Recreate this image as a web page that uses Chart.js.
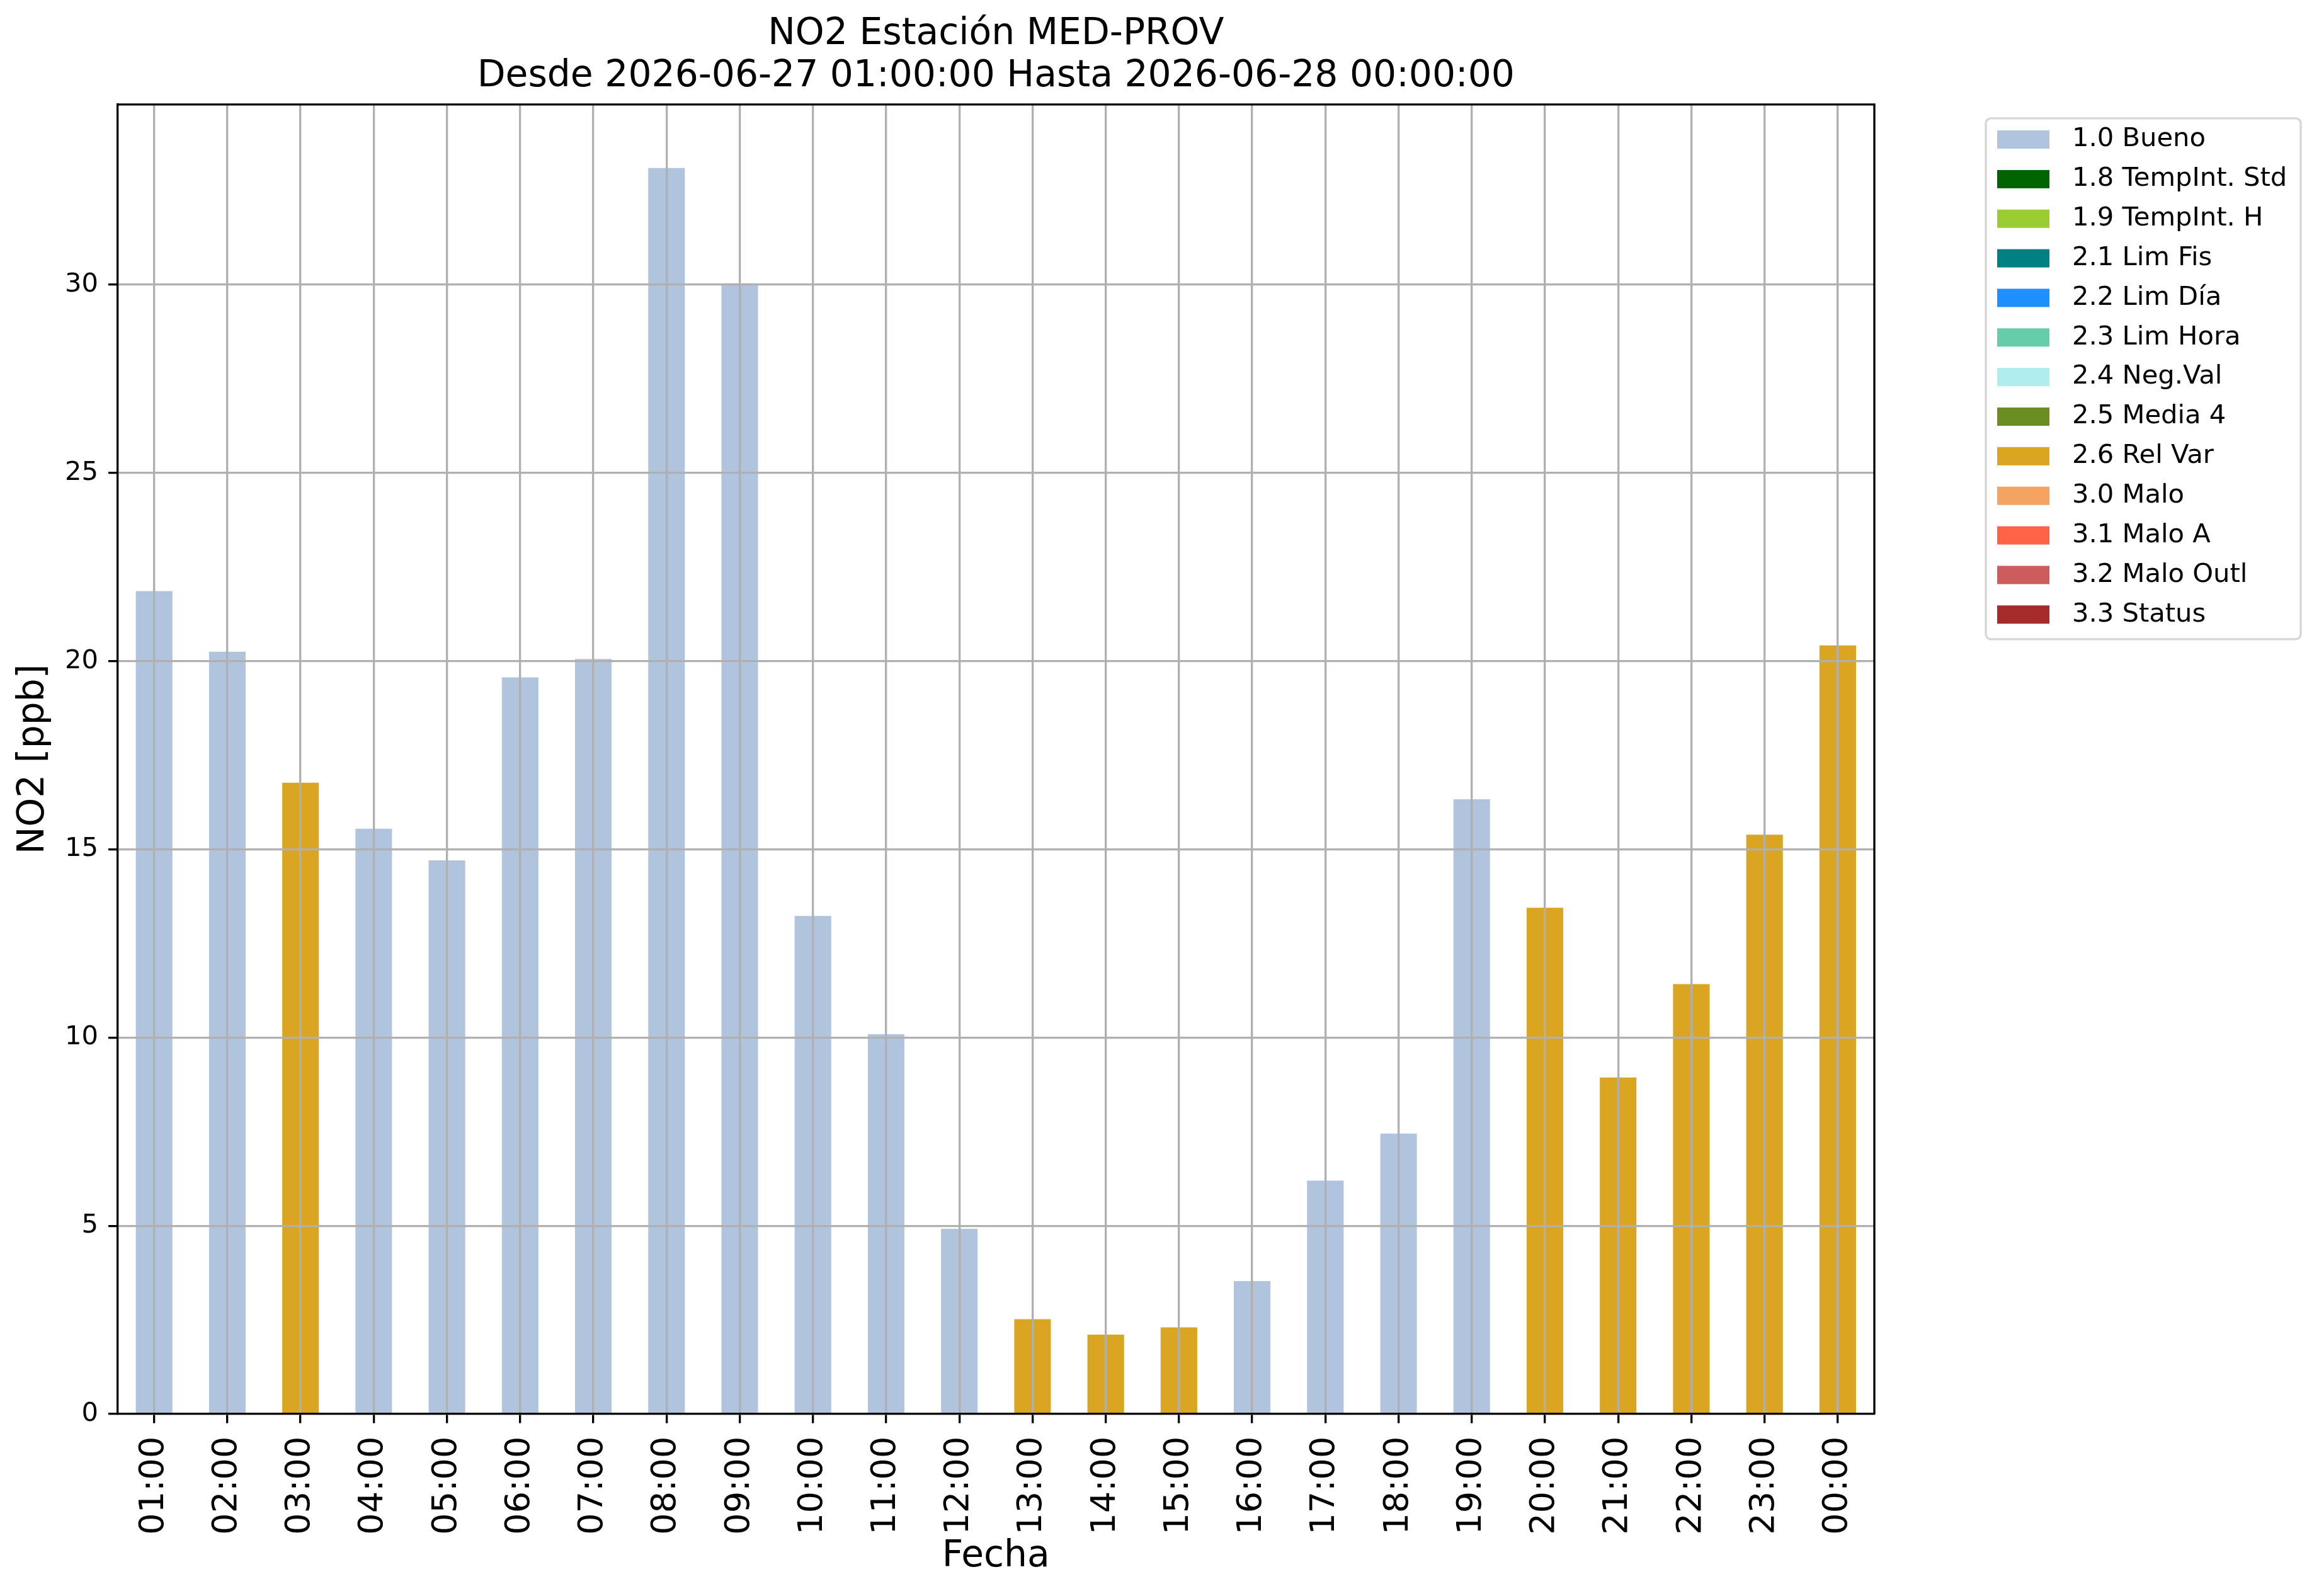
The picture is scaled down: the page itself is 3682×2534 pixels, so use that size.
<!DOCTYPE html>
<html lang="es">
<head>
    <meta charset="UTF-8">
    <title>NO2 Estación MED-PROV</title>
    <script src="https://cdn.jsdelivr.net/npm/chart.js"></script>
    <style>
        html, body { margin: 0; padding: 0; background: #fff; overflow: hidden; }
        canvas { display: block; }
    </style>
</head>
<body>
    <canvas id="graficoNO2" width="3682" height="2534"></canvas>

    <script>
        // Datos
        const horas = ['01:00', '02:00', '03:00', '04:00', '05:00', '06:00', '07:00', '08:00',
                       '09:00', '10:00', '11:00', '12:00', '13:00', '14:00', '15:00', '16:00',
                       '17:00', '18:00', '19:00', '20:00', '21:00', '22:00', '23:00', '00:00'];
        const valores = [21.86, 20.25, 16.77, 15.55, 14.71, 19.57, 20.06, 33.10,
                         30.04, 13.23, 10.09, 4.92, 2.52, 2.11, 2.30, 3.53,
                         6.20, 7.45, 16.33, 13.45, 8.94, 11.42, 15.39, 20.42];
        const banderas = ['1.0', '1.0', '2.6', '1.0', '1.0', '1.0', '1.0', '1.0',
                          '1.0', '1.0', '1.0', '1.0', '2.6', '2.6', '2.6', '1.0',
                          '1.0', '1.0', '1.0', '2.6', '2.6', '2.6', '2.6', '2.6'];
        const codigos = ['1.0', '1.8', '1.9', '2.1', '2.2', '2.3', '2.4', '2.5', '2.6', '3.0', '3.1', '3.2', '3.3'];
        const nombres = ['1.0 Bueno', '1.8 TempInt. Std', '1.9 TempInt. H', '2.1 Lim Fis', '2.2 Lim Día',
                         '2.3 Lim Hora', '2.4 Neg.Val', '2.5 Media 4', '2.6 Rel Var', '3.0 Malo',
                         '3.1 Malo A', '3.2 Malo Outl', '3.3 Status'];
        const colores = ['#b0c4de', '#006400', '#9acd32', '#008080', '#1e90ff', '#66cdaa', '#afeeee',
                         '#6b8e23', '#daa520', '#f4a460', '#ff6347', '#cd5c5c', '#a52a2a'];
        const marcasY = [0, 5, 10, 15, 20, 25, 30];
        const maxY = 34.79;

        const PT = 300 / 72; // 1 pt en píxeles a 300 dpi
        const fuente = 'DejaVu Sans';
        Chart.defaults.font.family = fuente;
        Chart.defaults.color = '#000';

        const datasets = codigos.map((c, k) => ({
            label: nombres[k],
            data: valores.map((v, i) => banderas[i] === c ? v : null),
            backgroundColor: colores[k],
            borderWidth: 0,
            barPercentage: 0.5,
            categoryPercentage: 1.0
        }));

        // Marco superior y derecho del eje + leyenda al estilo matplotlib
        const marcoYLeyenda = {
            id: 'marcoYLeyenda',
            afterDraw(chart) {
                const ctx = chart.ctx;
                const a = chart.chartArea;
                ctx.save();
                ctx.strokeStyle = '#000';
                ctx.lineWidth = 0.8 * PT;
                ctx.beginPath();
                ctx.moveTo(a.left, a.top);
                ctx.lineTo(a.right, a.top);
                ctx.lineTo(a.right, a.bottom);
                ctx.stroke();

                const x0 = a.right + 177, y0 = a.top + 22;
                const ancho = 500, alto = 827, fila = 62.85;
                ctx.fillStyle = 'rgba(255,255,255,0.8)';
                ctx.strokeStyle = 'rgba(204,204,204,0.8)';
                ctx.lineWidth = 0.8 * PT;
                ctx.beginPath();
                ctx.roundRect(x0, y0, ancho, alto, 8);
                ctx.fill();
                ctx.stroke();

                ctx.font = (10 * PT) + 'px "' + fuente + '"';
                ctx.textBaseline = 'middle';
                ctx.textAlign = 'left';
                chart.data.datasets.forEach((ds, k) => {
                    const yc = y0 + 33.7 + k * fila;
                    ctx.fillStyle = ds.backgroundColor;
                    ctx.fillRect(x0 + 18, yc - 14.5, 83, 29);
                    ctx.fillStyle = '#000';
                    ctx.fillText(ds.label, x0 + 137, yc);
                });
                ctx.restore();
            }
        };

        // rejilla encima de las barras, como en matplotlib
        const rejilla = {
            z: 1,
            color: '#b0b0b0',
            lineWidth: 0.8 * PT,
            tickColor: '#000',
            tickLength: 3.5 * PT,
            tickWidth: 0.8 * PT
        };
        const borde = { display: true, color: '#000', width: 0.8 * PT, z: 2 };

        new Chart(document.getElementById('graficoNO2'), {
            type: 'bar',
            data: { labels: horas, datasets: datasets },
            options: {
                responsive: false,
                devicePixelRatio: 1,
                animation: false,
                layout: { padding: { left: 0, top: 0, right: 706, bottom: 0 } },
                plugins: {
                    legend: { display: false },
                    tooltip: { enabled: false },
                    title: {
                        display: true,
                        fullSize: false,
                        text: ['NO2 Estación MED-PROV', 'Desde 2026-06-27 01:00:00 Hasta 2026-06-28 00:00:00'],
                        color: '#000',
                        font: { size: 14 * PT, weight: 'normal', lineHeight: 1.15 },
                        padding: { top: 21.5, bottom: 10.2 }
                    }
                },
                scales: {
                    x: {
                        stacked: true,
                        offset: true,
                        grid: Object.assign({ offset: false }, rejilla),
                        border: borde,
                        ticks: {
                            z: 2,
                            autoSkip: false,
                            maxRotation: 90,
                            minRotation: 90,
                            padding: 21,
                            color: '#000',
                            font: { size: 13 * PT }
                        },
                        title: {
                            display: true,
                            text: 'Fecha',
                            color: '#000',
                            font: { size: 14 * PT },
                            padding: { top: 0, bottom: 27 }
                        },
                        afterFit(s) { s.height = 289; }
                    },
                    y: {
                        stacked: true,
                        min: 0,
                        max: maxY,
                        grid: rejilla,
                        border: borde,
                        afterBuildTicks(s) { s.ticks = marcasY.map(v => ({ value: v })); },
                        ticks: {
                            z: 2,
                            includeBounds: false,
                            padding: 16,
                            color: '#000',
                            font: { size: 10 * PT }
                        },
                        title: {
                            display: true,
                            text: 'NO2 [ppb]',
                            color: '#000',
                            font: { size: 14 * PT },
                            padding: { top: 19, bottom: 0 }
                        },
                        afterFit(s) { s.width = 186.6; }
                    }
                }
            },
            plugins: [marcoYLeyenda]
        });
    </script>
</body>
</html>
